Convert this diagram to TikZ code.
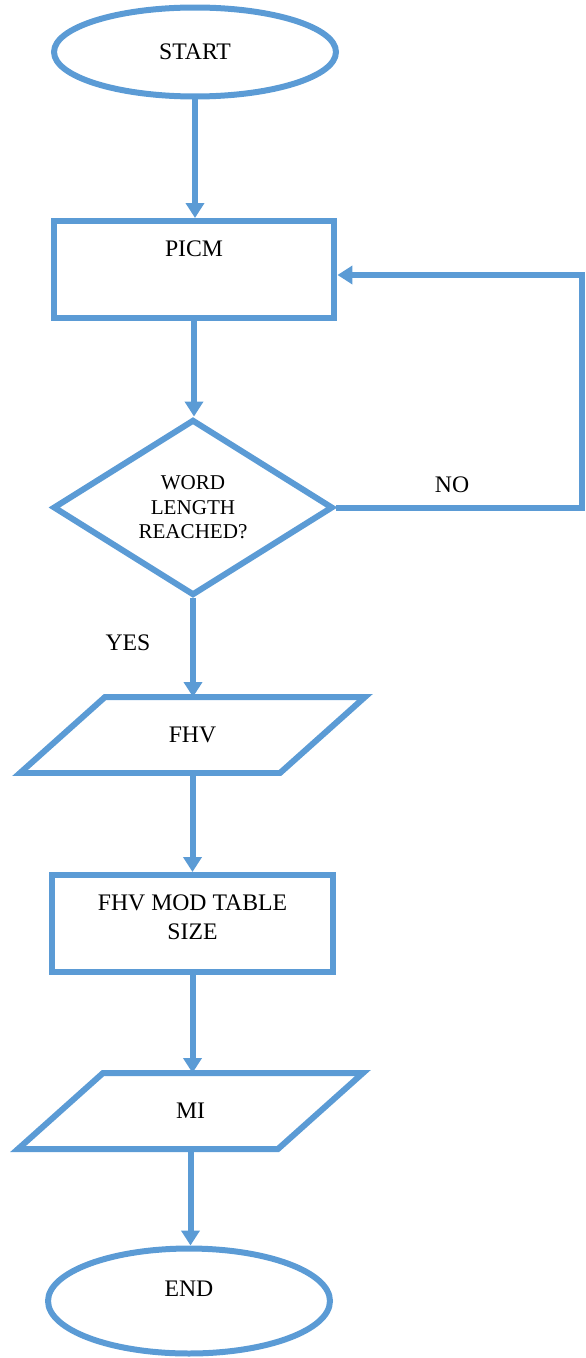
\documentclass[tikz,border=0pt]{standalone}
\usepackage{fontspec}
\setmainfont{Liberation Serif}
\usepackage{tikz}
\usetikzlibrary{shapes.geometric,arrows.meta,positioning}
\definecolor{flowblue}{HTML}{5B9BD5}

\begin{document}
\begin{tikzpicture}[x=0.02cm, y=-0.02cm,
    every node/.style={font=\fontsize{13.5}{16.4}\selectfont},
    shapeline/.style={draw=flowblue, line width=0.12cm},
    flowarrow/.style={draw=flowblue, line width=0.12cm, -{Triangle[length=0.3cm,width=0.36cm]}},
    terminal/.style={shapeline, ellipse, minimum width=5.64cm, minimum height=1.78cm},
    process/.style={shapeline, rectangle, minimum width=5.62cm, minimum height=1.94cm},
    decision/.style={shapeline, diamond, minimum width=5.6cm, minimum height=3.52cm, align=center, inner sep=0pt, font=\fontsize{12}{13.9}\selectfont},
    iobox/.style={rectangle, minimum width=5.2cm, minimum height=1.52cm, inner sep=0pt, outer sep=0pt}]
    \useasboundingbox (0,0) rectangle (585,1358);

    \node (start) [terminal] at (195,52) {START};
    \node (picm) [process] at (194,269.5) {};
    \node (picmtxt) at (194,249) {PICM};
    \node (cond) [decision] at (193,507.5) {WORD\\LENGTH\\REACHED?};
    \node (fhv) [iobox] at (192.5,735) {FHV};
    \node (fhvmod) [process] at (192.5,923.5) {};
    \node (fhvmodtxt) [align=center] at (192.5,917.5) {FHV MOD TABLE\\SIZE};
    \node (mi) [iobox] at (190.5,1111) {MI};
    \node (stop) [terminal, minimum width=5.64cm, minimum height=2.1cm] at (189,1301) {};
    \node (stoptxt) at (189,1289) {END};

    % parallelograms round the io nodes
    \draw[shapeline] ([xshift=0.85cm]fhv.north west) -- ([xshift=0.85cm]fhv.north east) -- ([xshift=-0.85cm]fhv.south east) -- ([xshift=-0.85cm]fhv.south west) -- cycle;
    \draw[shapeline] ([xshift=0.85cm]mi.north west) -- ([xshift=0.85cm]mi.north east) -- ([xshift=-0.85cm]mi.south east) -- ([xshift=-0.85cm]mi.south west) -- cycle;

    \node (nolabel) at (452,485) {NO};
    \node (yeslabel) at (128,643) {YES};

    \draw[flowarrow] (start.south) -- (start.south |- picm.north);
    \draw[flowarrow] (picm.south) -- (picm.south |- cond.north);
    \draw[flowarrow] (cond.south) -- (cond.south |- fhv.north);
    \draw[flowarrow] (fhv.south) -- (fhv.south |- fhvmod.north);
    \draw[flowarrow] (fhvmod.south) -- (fhvmod.south |- mi.north);
    \draw[flowarrow] (mi.south) -- (mi.south |- stop.north);

    \coordinate (loopcorner) at (582,275);
    \draw[flowarrow] (cond.east) -| (loopcorner) -- (loopcorner -| picm.east);
\end{tikzpicture}
\end{document}
